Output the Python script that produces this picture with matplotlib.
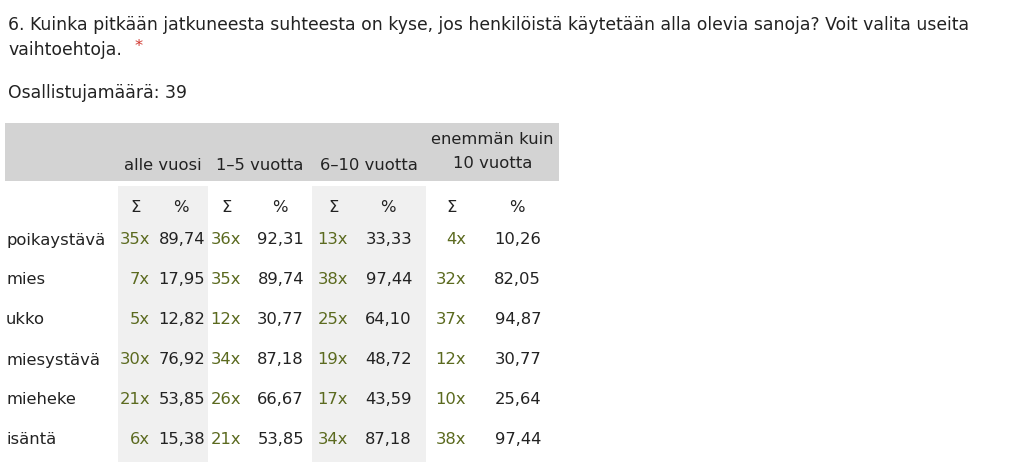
import matplotlib
matplotlib.use("Agg")
import matplotlib.pyplot as plt
from matplotlib.patches import Rectangle

question = "6. Kuinka pitkään jatkuneesta suhteesta on kyse, jos henkilöistä käytetään alla olevia sanoja? Voit valita useita"
question2 = "vaihtoehtoja."
participants = "Osallistujamäärä: 39"
groups = ["alle vuosi", "1–5 vuotta", "6–10 vuotta", "enemmän kuin\n10 vuotta"]
rows = ["poikaystävä", "mies", "ukko", "miesystävä", "mieheke", "isäntä"]
counts = [[35, 36, 13, 4], [7, 35, 38, 32], [5, 12, 25, 37],
          [30, 34, 19, 12], [21, 26, 17, 10], [6, 21, 34, 38]]
pcts = [["89,74", "92,31", "33,33", "10,26"], ["17,95", "89,74", "97,44", "82,05"],
        ["12,82", "30,77", "64,10", "94,87"], ["76,92", "87,18", "48,72", "30,77"],
        ["53,85", "66,67", "43,59", "25,64"], ["15,38", "53,85", "87,18", "97,44"]]

fig = plt.figure(figsize=(10.24, 4.75), dpi=100)
ax = fig.add_axes([0, 0, 1, 1])
ax.set_xlim(0, 1024); ax.set_ylim(475, 0); ax.axis("off")
fs = 12.4
fs2 = 11.8
olive = "#5b6a1f"

ax.text(8, 25, question, fontsize=fs, va="center", color="#222")
ax.text(8, 50, question2, fontsize=fs, va="center", color="#222")
ax.text(135, 47, "*", fontsize=fs2, va="center", color="#d0342c")
ax.text(8, 93, participants, fontsize=fs, va="center", color="#222")

# header band
ax.add_patch(Rectangle((5, 123), 554, 58, color="#d3d3d3", lw=0))
col_left = [118, 208, 312, 426]
col_right = [208, 312, 426, 559]
for i in (0, 2):
    ax.add_patch(Rectangle((col_left[i], 186), col_right[i] - col_left[i], 276, color="#f0f0f0", lw=0))
for i, g in enumerate(groups):
    cx = (col_left[i] + col_right[i]) / 2
    ax.text(cx, 165 if "\n" not in g else 151, g, fontsize=fs2, ha="center", va="center",
            color="#222", linespacing=1.75)

sig_x = [136, 227, 334, 452]
pct_x = [181, 280, 388, 517]
for i in range(4):
    ax.text(sig_x[i], 207, "Σ", fontsize=fs2, ha="center", va="center", color="#222")
    ax.text(pct_x[i], 207, "%", fontsize=fs2, ha="center", va="center", color="#222")

for r, name in enumerate(rows):
    y = 240 + 40 * r
    ax.text(6, y, name, fontsize=fs2, va="center", color="#222")
    for i in range(4):
        ax.text(sig_x[i] + 14, y, f"{counts[r][i]}x", fontsize=fs2, ha="right", va="center", color=olive)
        ax.text(pct_x[i] + 24, y, pcts[r][i], fontsize=fs2, ha="right", va="center", color="#222")

fig.savefig("out.png", dpi=100, facecolor="white")
